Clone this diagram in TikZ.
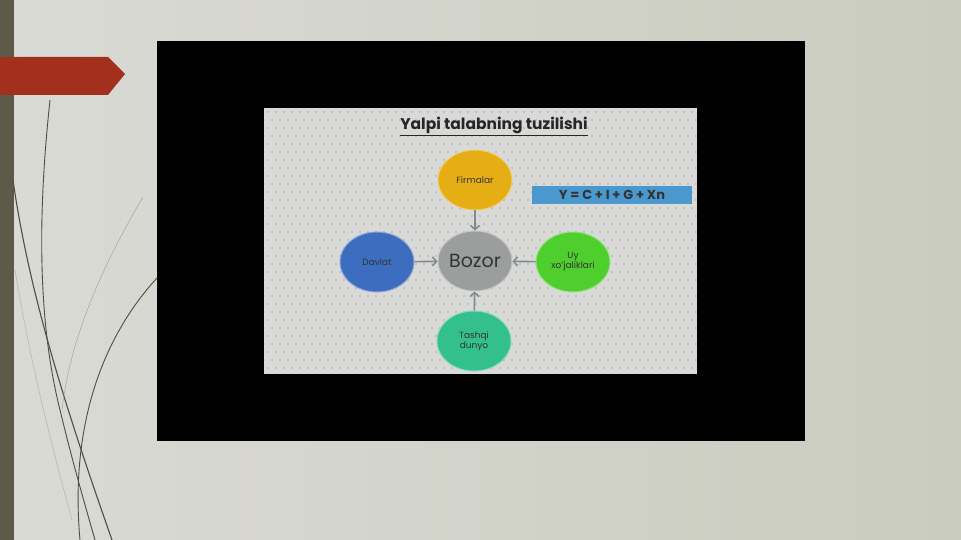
\documentclass[tikz,border=0pt]{standalone}
\usepackage{fontspec}
\setmainfont{Poppins}
\usetikzlibrary{shapes.geometric,arrows.meta}
\definecolor{bgL}{HTML}{DADAD5}
\definecolor{bgR}{HTML}{C9CCBE}
\definecolor{strip}{HTML}{5E5A4A}
\definecolor{banner}{HTML}{A3301C}
\definecolor{curve}{HTML}{4E4E44}
\definecolor{slide}{HTML}{D9DAD8}
\definecolor{dotc}{HTML}{A9ABA7}
\definecolor{cyellow}{HTML}{E5AE14}
\definecolor{cgrey}{HTML}{9C9E9E}
\definecolor{cblue}{HTML}{3D6DBE}
\definecolor{cgreen}{HTML}{4FCF2E}
\definecolor{cteal}{HTML}{34C08E}
\definecolor{fbox}{HTML}{4B98CE}
\definecolor{arr}{HTML}{7E8C90}
\tikzset{
  circ/.style={ellipse, draw=#1!60!white, line width=1pt, fill=#1, minimum width=74pt, minimum height=60pt, inner sep=0pt, align=center, font=\fontsize{9}{10}\selectfont, text=black!80},
  conn/.style={draw=arr, line width=1.6pt, -{Straight Barb[length=4pt,width=9pt]}},
}
\begin{document}
\begin{tikzpicture}[x=1pt,y=-1pt]
\useasboundingbox (0,0) rectangle (961,540);
% background
\shade[left color=bgL, right color=bgR] (0,0) rectangle (961,540);
\fill[strip] (0,0) rectangle (14,540);
% banner
\fill[banner] (0,57) -- (108,57) -- (125,74) -- (108,95) -- (0,95) -- cycle;
% decorative curves
\draw[curve, line width=0.9pt] (50,100) .. controls (36,230) and (40,330) .. (60,410) .. controls (72,460) and (85,505) .. (95,540);
\draw[curve, line width=1.1pt] (13,180) .. controls (30,300) and (70,420) .. (112,540);
\draw[curve, line width=0.9pt] (157,278) .. controls (100,340) and (70,430) .. (80,540);
\draw[curve!50, line width=0.5pt] (143,197) .. controls (100,270) and (70,340) .. (62,410);
\draw[curve!40, line width=0.6pt] (15,270) .. controls (30,360) and (50,440) .. (72,520);
% black frame
\fill[black] (157,41) rectangle (805,441);
% slide
\fill[slide] (264,108) rectangle (697,374);
\foreach \i in {0,...,53} {
  \foreach \j in {0,...,32} {
    \fill[dotc] ({268+8*\i+mod(\j,2)*4},{112+8*\j}) circle (0.8pt);
  }
}
% title
\node[font=\bfseries\fontsize{15.5}{18}\selectfont, text=black!85] (title) at (494,126) {\underline{Yalpi talabning tuzilishi}};
% formula box
\fill[fbox] (532,186) rectangle (692,204);
\node[font=\bfseries\fontsize{13}{14}\selectfont, text=black!80] (formula) at (612,195) {Y = C + I + G + Xn};
% nodes
\node[circ=cyellow] (firm) at (475,180) {Firmalar};
\node[circ=cgrey, font=\fontsize{19}{21}\selectfont] (bozor) at (475,261) {Bozor};
\node[circ=cblue] (davlat) at (377,262) {Davlat};
\node[circ=cgreen] (uy) at (573,262) {Uy\\xo'jaliklari};
\node[circ=cteal] (tashqi) at (474,341) {Tashqi\\dunyo};
% connectors
\draw[conn] (firm) -- (bozor);
\draw[conn] (davlat) -- (bozor);
\draw[conn] (uy) -- (bozor);
\draw[conn] (tashqi) -- (bozor);
\end{tikzpicture}
\end{document}
